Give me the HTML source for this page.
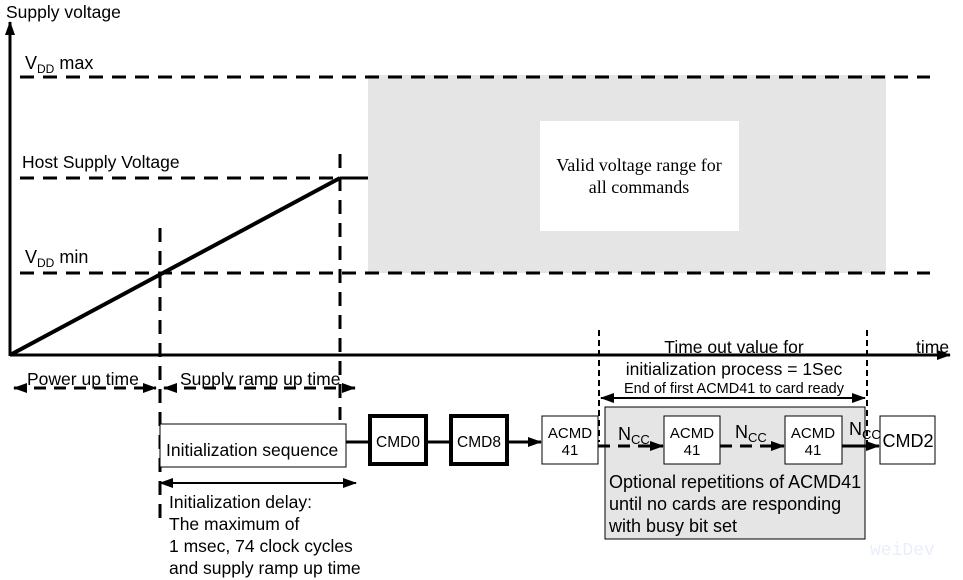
<!DOCTYPE html>
<html><head><meta charset="utf-8"><style>
html,body{margin:0;padding:0;background:#fff;}
svg{display:block;}
text{font-family:"Liberation Sans",sans-serif;fill:#000;}
</style></head><body>
<svg width="963" height="580" viewBox="0 0 963 580" xmlns="http://www.w3.org/2000/svg">
<defs>
<marker id="ab" markerWidth="14" markerHeight="10" refX="13" refY="5" orient="auto" markerUnits="userSpaceOnUse"><path d="M0,0 L14,5 L0,10 z" fill="#000"/></marker>
<marker id="abs" markerWidth="14" markerHeight="10" refX="1" refY="5" orient="auto" markerUnits="userSpaceOnUse"><path d="M14,0 L0,5 L14,10 z" fill="#000"/></marker>
</defs>
<rect x="368" y="75" width="518" height="198" fill="#e5e5e5"/>
<rect x="540" y="121" width="199" height="110" fill="#fff"/>
<text x="639" y="171" font-size="18" text-anchor="middle" style="font-family:'Liberation Serif',serif">Valid voltage range for</text>
<text x="639" y="193" font-size="18" text-anchor="middle" style="font-family:'Liberation Serif',serif">all commands</text>
<line x1="10" y1="356" x2="10" y2="22" stroke="#000" stroke-width="3" marker-end="url(#ab)"/>
<line x1="10" y1="355" x2="950" y2="355" stroke="#000" stroke-width="3" marker-end="url(#ab)"/>
<text x="6" y="18" font-size="17.5">Supply voltage</text>
<text x="916" y="353" font-size="17.5">time</text>
<g stroke="#000" stroke-width="3" stroke-dasharray="14,9" fill="none">
<line x1="20" y1="77" x2="930" y2="77"/>
<line x1="20" y1="178" x2="340" y2="178"/>
<line x1="20" y1="273" x2="930" y2="273"/>
<line x1="160" y1="228" x2="160" y2="525"/>
<line x1="340" y1="154" x2="340" y2="420"/>
</g>
<line x1="340" y1="178" x2="368" y2="178" stroke="#000" stroke-width="3"/>
<line x1="10" y1="355" x2="340" y2="178" stroke="#000" stroke-width="4"/>
<text x="25" y="69" font-size="18">V<tspan font-size="12" dy="4">DD</tspan><tspan dy="-4"> max</tspan></text>
<text x="22" y="168" font-size="17.5">Host Supply Voltage</text>
<text x="25" y="263" font-size="18">V<tspan font-size="12" dy="4">DD</tspan><tspan dy="-4"> min</tspan></text>
<g stroke="#000" stroke-width="3" stroke-dasharray="12,8">
<line x1="14" y1="388" x2="156" y2="388" marker-start="url(#abs)" marker-end="url(#ab)"/>
<line x1="164" y1="388" x2="355" y2="388" marker-start="url(#abs)" marker-end="url(#ab)"/>
</g>
<text x="27" y="385" font-size="17.5">Power up time</text>
<text x="180" y="385" font-size="17.5">Supply ramp up time</text>
<rect x="160" y="424" width="186" height="43" fill="#fff" stroke="#000" stroke-width="1"/>
<text x="166" y="456" font-size="17.5">Initialization sequence</text>
<line x1="346" y1="442" x2="370" y2="442" stroke="#000" stroke-width="3"/>
<rect x="370" y="416" width="56" height="48" fill="#fff" stroke="#000" stroke-width="4"/>
<text x="398" y="447" font-size="15.5" text-anchor="middle">CMD0</text>
<line x1="426" y1="442" x2="451" y2="442" stroke="#000" stroke-width="3"/>
<rect x="451" y="416" width="56" height="48" fill="#fff" stroke="#000" stroke-width="4"/>
<text x="479" y="447" font-size="15.5" text-anchor="middle">CMD8</text>
<line x1="507" y1="442" x2="541" y2="442" stroke="#000" stroke-width="3" marker-end="url(#ab)"/>
<line x1="160" y1="483" x2="356" y2="483" stroke="#000" stroke-width="2" marker-start="url(#abs)" marker-end="url(#ab)"/>
<text x="169" y="508" font-size="17.5">Initialization delay:</text>
<text x="169" y="530" font-size="17.5">The maximum of</text>
<text x="169" y="552" font-size="17.5">1 msec, 74 clock cycles</text>
<text x="169" y="574" font-size="17.5">and supply ramp up time</text>
<rect x="605" y="407" width="260" height="132" fill="#e5e5e5" stroke="#000" stroke-width="1"/>
<rect x="542" y="416" width="56" height="48" fill="#fff" stroke="#000" stroke-width="1"/>
<text x="570" y="438" font-size="15" text-anchor="middle">ACMD</text>
<text x="570" y="455" font-size="15" text-anchor="middle">41</text>
<rect x="664" y="416" width="56" height="48" fill="#fff" stroke="#000" stroke-width="1"/>
<text x="692" y="438" font-size="15" text-anchor="middle">ACMD</text>
<text x="692" y="455" font-size="15" text-anchor="middle">41</text>
<rect x="785" y="416" width="57" height="48" fill="#fff" stroke="#000" stroke-width="1"/>
<text x="813" y="438" font-size="15" text-anchor="middle">ACMD</text>
<text x="813" y="455" font-size="15" text-anchor="middle">41</text>
<rect x="880" y="416" width="55" height="48" fill="#fff" stroke="#000" stroke-width="1"/>
<text x="908" y="447" font-size="18" text-anchor="middle">CMD2</text>
<g stroke="#000" stroke-width="3" stroke-dasharray="12,8">
<line x1="598" y1="446" x2="663" y2="446" marker-end="url(#ab)"/>
<line x1="720" y1="446" x2="784" y2="446" marker-end="url(#ab)"/>
</g>
<line x1="842" y1="446" x2="879" y2="446" stroke="#000" stroke-width="3" marker-end="url(#ab)"/>
<text x="618" y="440" font-size="18">N<tspan font-size="13" dy="4">CC</tspan></text>
<text x="735" y="438" font-size="18">N<tspan font-size="13" dy="4">CC</tspan></text>
<text x="849" y="435" font-size="18">N<tspan font-size="13" dy="4">CC</tspan></text>
<text x="609" y="488" font-size="18">Optional repetitions of ACMD41</text>
<text x="609" y="510" font-size="18">until no cards are responding</text>
<text x="609" y="532" font-size="18">with busy bit set</text>
<g stroke="#000" stroke-width="2" stroke-dasharray="6,4">
<line x1="599" y1="330" x2="599" y2="442"/>
<line x1="867" y1="330" x2="867" y2="442"/>
</g>
<line x1="601" y1="398" x2="865" y2="398" stroke="#000" stroke-width="2" marker-start="url(#abs)" marker-end="url(#ab)"/>
<text x="734" y="353" font-size="17.5" text-anchor="middle">Time out value for</text>
<text x="734" y="375" font-size="17.5" text-anchor="middle">initialization process = 1Sec</text>
<text x="734" y="393" font-size="14.5" text-anchor="middle">End of first ACMD41 to card ready</text>
<text x="870" y="555" font-size="18" style="fill:#e8eefb;font-family:'Liberation Mono',monospace">weiDev</text>
</svg>
</body></html>
